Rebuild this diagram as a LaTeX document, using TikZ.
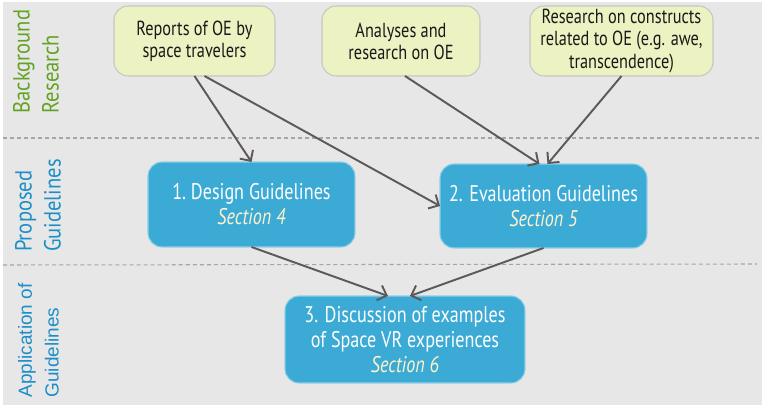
\documentclass[tikz,border=0pt]{standalone}
\usepackage{fontspec}
\setmainfont{PT Sans}[FakeStretch=0.88]
\newfontfamily\boxfont{PT Sans}[FakeStretch=0.8]
\newfontfamily\arialfont{Liberation Sans}
\usetikzlibrary{arrows.meta,positioning}

\begin{document}
\begin{tikzpicture}[x=0.02cm, y=-0.02cm,
    every node/.style={outer sep=0pt, inner sep=0pt},
    srcbox/.style={draw=srcline, fill=srcfill, rounded corners=8pt, line width=0.6pt,
        align=center, text=black!90, minimum height=1.4cm, font=\boxfont\fontsize{11.6}{12.6}\selectfont},
    guidebox/.style={draw=guideedge, fill=guidefill, rounded corners=8pt, line width=0.6pt,
        align=center, text=white, font=\boxfont\fontsize{12.9}{14.3}\selectfont},
    sidelabel/.style={rotate=90, align=left, font=\fontsize{13.3}{16.4}\selectfont},
    link/.style={draw=linkcol, line width=1.1pt, -{Straight Barb[length=4.5pt,width=9pt]}},
    band/.style={draw=bandcol, line width=0.6pt, dash pattern=on 2.3pt off 1.7pt}]
    \definecolor{srcfill}{HTML}{EDF2C2}
    \definecolor{srcline}{HTML}{C4C8C0}
    \definecolor{guidefill}{HTML}{3BABD6}
    \definecolor{guideedge}{HTML}{8FCDE8}
    \definecolor{secfg}{HTML}{FFF2CC}
    \definecolor{linkcol}{HTML}{5E5858}
    \definecolor{bandcol}{HTML}{A6A6A6}
    \definecolor{bggray}{HTML}{E7E7E7}
    \definecolor{labgreen}{HTML}{62A321}
    \definecolor{labblue}{HTML}{1B8EC8}
    \useasboundingbox (0,0) rectangle (765,409);
    % background
    \fill[bggray] (3,2) rectangle (762,405);
    \draw[band] (3,138) -- (762,138);
    \draw[band] (3,265) -- (757,264);
    % row labels
    \node[sidelabel, text=labgreen] (lbg) at (36,61.5) {Background\\Research};
    \node[sidelabel, text=labblue] (lpg) at (38,205.5) {Proposed\\Guidelines};
    \node[sidelabel, text=labblue, font=\arialfont\fontsize{10.8}{15.3}\selectfont] (lap) at (38.5,340.5) {Application of\\Guidelines};
    % background research
    \node[srcbox, minimum width=3.22cm] (rep) at (194.5,41) {Reports of OE by\\space travelers};
    \node[srcbox, minimum width=3.16cm] (ana) at (401,41) {Analyses and\\research on OE};
    \node[srcbox, minimum width=3.66cm] (con) at (621.5,41) {Research on constructs\\related to OE (e.g. awe,\\transcendence)};
    % proposed guidelines
    \node[guidebox, minimum width=4.14cm, minimum height=1.7cm] (des) at (251.5,204.5) {1.\ Design Guidelines\\{\color{secfg}\itshape Section 4}};
    \node[guidebox, minimum width=4.14cm, minimum height=1.68cm] (eva) at (543.5,206) {2. Evaluation Guidelines\\{\color{secfg}\itshape Section 5}};
    % application
    \node[guidebox, minimum width=4.8cm, minimum height=1.74cm] (dis) at (405,339.5) {3. Discussion of examples\\of Space VR experiences\\{\color{secfg}\itshape Section 6}};
    % links
    \draw[link] (rep.south) -- (des.north);
    \draw[link] ([xshift=0.2cm]rep.south) -- (eva.west);
    \draw[link] ([xshift=0.08cm]ana.south) -- ([xshift=-0.08cm]eva.north);
    \draw[link] (con.south) -- ([xshift=0.08cm]eva.north);
    \draw[link] (des.south) -- ([xshift=-0.34cm]dis.north);
    \draw[link] (eva.south) -- ([xshift=0.1cm]dis.north);
\end{tikzpicture}
\end{document}
